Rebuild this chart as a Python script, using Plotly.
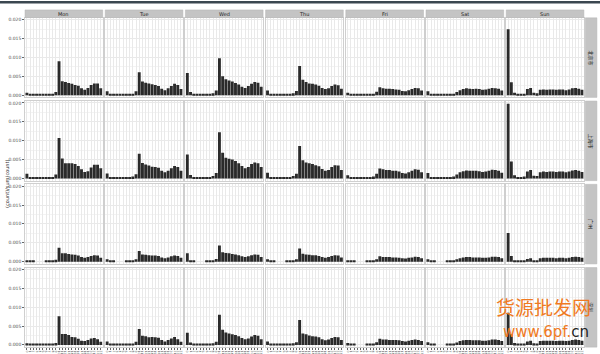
import plotly.graph_objects as go

hours = list(range(24))
days = ["Mon", "Tue", "Wed", "Thu", "Fri", "Sat", "Sun"]
cities = ["北京市", "上海市", "广州", "深圳"]
y_ticks = [0.0, 0.005, 0.010, 0.015, 0.020]
y_tick_labels = ["0.000", "0.005", "0.010", "0.015", "0.020"]
y_title = "(count)/sum(count)"

# values per city row, one list per weekday (hours 0..23)
city1_values = [
    [0.0006,0.0003,0.0001,0.0001,0.0001,0.0001,0.0002,0.0003,0.0004,0.0008,0.0090,0.0037,0.0035,0.0032,0.0030,0.0027,0.0025,0.0018,0.0014,0.0019,0.0027,0.0031,0.0031,0.0018],
    [0.0010,0.0003,0.0001,0.0001,0.0001,0.0001,0.0002,0.0003,0.0004,0.0010,0.0061,0.0036,0.0033,0.0031,0.0029,0.0027,0.0024,0.0017,0.0013,0.0018,0.0024,0.0030,0.0027,0.0016],
    [0.0059,0.0008,0.0002,0.0001,0.0001,0.0001,0.0002,0.0003,0.0005,0.0012,0.0098,0.0050,0.0042,0.0039,0.0036,0.0032,0.0028,0.0022,0.0019,0.0024,0.0030,0.0035,0.0033,0.0022],
    [0.0012,0.0004,0.0001,0.0001,0.0001,0.0001,0.0002,0.0003,0.0005,0.0011,0.0077,0.0041,0.0035,0.0031,0.0030,0.0028,0.0025,0.0019,0.0016,0.0018,0.0024,0.0028,0.0026,0.0017],
    [0.0006,0.0002,0.0001,0.0001,0.0001,0.0001,0.0001,0.0002,0.0004,0.0009,0.0021,0.0018,0.0017,0.0017,0.0016,0.0015,0.0014,0.0011,0.0010,0.0013,0.0016,0.0019,0.0018,0.0012],
    [0.0010,0.0003,0.0001,0.0001,0.0001,0.0001,0.0001,0.0002,0.0004,0.0008,0.0013,0.0016,0.0018,0.0017,0.0016,0.0017,0.0016,0.0014,0.0015,0.0017,0.0019,0.0018,0.0017,0.0012],
    [0.0175,0.0034,0.0006,0.0003,0.0002,0.0004,0.0016,0.0019,0.0006,0.0005,0.0014,0.0015,0.0014,0.0015,0.0015,0.0014,0.0015,0.0015,0.0013,0.0015,0.0018,0.0019,0.0017,0.0014],
]
city2_values = [
    [0.0012,0.0004,0.0001,0.0001,0.0001,0.0001,0.0002,0.0003,0.0004,0.0010,0.0107,0.0053,0.0040,0.0040,0.0040,0.0038,0.0033,0.0024,0.0017,0.0019,0.0029,0.0036,0.0036,0.0027],
    [0.0013,0.0004,0.0001,0.0001,0.0001,0.0001,0.0002,0.0003,0.0005,0.0011,0.0065,0.0041,0.0037,0.0034,0.0031,0.0030,0.0028,0.0020,0.0016,0.0020,0.0027,0.0033,0.0030,0.0020],
    [0.0063,0.0009,0.0002,0.0001,0.0001,0.0001,0.0002,0.0003,0.0006,0.0014,0.0122,0.0068,0.0055,0.0052,0.0050,0.0046,0.0040,0.0033,0.0027,0.0030,0.0038,0.0042,0.0040,0.0030],
    [0.0015,0.0004,0.0001,0.0001,0.0001,0.0001,0.0002,0.0003,0.0006,0.0012,0.0086,0.0048,0.0042,0.0040,0.0038,0.0035,0.0032,0.0025,0.0020,0.0022,0.0030,0.0035,0.0034,0.0022],
    [0.0008,0.0002,0.0001,0.0001,0.0001,0.0001,0.0001,0.0002,0.0005,0.0012,0.0026,0.0024,0.0022,0.0022,0.0020,0.0020,0.0018,0.0014,0.0013,0.0016,0.0020,0.0024,0.0023,0.0016],
    [0.0014,0.0004,0.0001,0.0001,0.0001,0.0001,0.0001,0.0002,0.0005,0.0010,0.0016,0.0019,0.0021,0.0020,0.0020,0.0020,0.0019,0.0017,0.0018,0.0020,0.0023,0.0022,0.0020,0.0015],
    [0.0198,0.0045,0.0008,0.0003,0.0002,0.0005,0.0018,0.0022,0.0007,0.0006,0.0016,0.0018,0.0017,0.0018,0.0018,0.0017,0.0018,0.0018,0.0016,0.0018,0.0021,0.0022,0.0020,0.0017],
]
city3_values = [
    [0.0004,0.0002,0.0001,0.0000,0.0000,0.0000,0.0001,0.0002,0.0003,0.0005,0.0037,0.0022,0.0022,0.0020,0.0019,0.0018,0.0016,0.0012,0.0010,0.0012,0.0015,0.0017,0.0016,0.0010],
    [0.0006,0.0002,0.0001,0.0000,0.0000,0.0000,0.0001,0.0002,0.0003,0.0006,0.0028,0.0019,0.0018,0.0017,0.0016,0.0016,0.0015,0.0011,0.0009,0.0011,0.0014,0.0016,0.0015,0.0010],
    [0.0022,0.0004,0.0001,0.0000,0.0000,0.0000,0.0001,0.0002,0.0004,0.0007,0.0043,0.0025,0.0023,0.0022,0.0020,0.0019,0.0017,0.0014,0.0012,0.0014,0.0017,0.0019,0.0018,0.0012],
    [0.0006,0.0002,0.0001,0.0000,0.0000,0.0000,0.0001,0.0002,0.0003,0.0006,0.0035,0.0021,0.0019,0.0018,0.0017,0.0017,0.0015,0.0012,0.0010,0.0012,0.0015,0.0017,0.0016,0.0011],
    [0.0004,0.0001,0.0001,0.0000,0.0000,0.0000,0.0001,0.0001,0.0003,0.0006,0.0014,0.0012,0.0012,0.0012,0.0011,0.0011,0.0010,0.0009,0.0008,0.0010,0.0011,0.0013,0.0012,0.0009],
    [0.0006,0.0002,0.0001,0.0000,0.0000,0.0000,0.0001,0.0001,0.0003,0.0006,0.0009,0.0011,0.0012,0.0012,0.0011,0.0011,0.0011,0.0010,0.0010,0.0011,0.0013,0.0013,0.0012,0.0009],
    [0.0076,0.0015,0.0003,0.0001,0.0001,0.0002,0.0007,0.0009,0.0003,0.0003,0.0009,0.0010,0.0010,0.0010,0.0010,0.0009,0.0010,0.0010,0.0009,0.0010,0.0012,0.0013,0.0012,0.0010],
]
city4_values = [
    [0.0004,0.0002,0.0001,0.0001,0.0001,0.0001,0.0001,0.0002,0.0003,0.0005,0.0076,0.0029,0.0029,0.0026,0.0021,0.0020,0.0016,0.0011,0.0010,0.0013,0.0017,0.0018,0.0015,0.0008],
    [0.0009,0.0002,0.0001,0.0001,0.0001,0.0001,0.0001,0.0003,0.0003,0.0008,0.0042,0.0024,0.0023,0.0020,0.0021,0.0020,0.0019,0.0013,0.0009,0.0013,0.0017,0.0021,0.0015,0.0008],
    [0.0032,0.0006,0.0001,0.0001,0.0001,0.0001,0.0001,0.0002,0.0004,0.0008,0.0080,0.0040,0.0033,0.0030,0.0028,0.0026,0.0023,0.0018,0.0015,0.0017,0.0022,0.0026,0.0024,0.0015],
    [0.0009,0.0003,0.0001,0.0001,0.0001,0.0001,0.0001,0.0002,0.0004,0.0007,0.0066,0.0030,0.0028,0.0025,0.0023,0.0022,0.0020,0.0015,0.0012,0.0014,0.0018,0.0021,0.0020,0.0013],
    [0.0005,0.0002,0.0001,0.0000,0.0000,0.0000,0.0001,0.0001,0.0003,0.0007,0.0016,0.0014,0.0014,0.0013,0.0013,0.0013,0.0012,0.0010,0.0009,0.0011,0.0013,0.0014,0.0013,0.0010],
    [0.0007,0.0002,0.0001,0.0000,0.0000,0.0000,0.0001,0.0001,0.0003,0.0006,0.0010,0.0012,0.0013,0.0013,0.0012,0.0012,0.0012,0.0011,0.0011,0.0012,0.0014,0.0014,0.0013,0.0010],
    [0.0085,0.0028,0.0005,0.0002,0.0001,0.0003,0.0009,0.0011,0.0004,0.0003,0.0010,0.0011,0.0011,0.0011,0.0011,0.0010,0.0011,0.0011,0.0010,0.0011,0.0013,0.0014,0.0013,0.0011],
]
all_values = [city1_values, city2_values, city3_values, city4_values]

W, H = 600, 354
col_left0, col_w, col_step = 25.0, 77.7, 80.2
row_top0, row_h, row_step = 17.0, 80.5, 84.2
strip_color = "#c4c4c4"
bar_color = "#2a2a2a"
grid_color = "#e9e9e9"
minor_grid = "#f3f3f3"
y_minor = [0.0025, 0.0075, 0.0125, 0.0175]

fig = go.Figure()
layout = dict(
    width=W, height=H, margin=dict(l=0, r=0, t=0, b=0),
    paper_bgcolor="white", plot_bgcolor="white",
    bargap=0.1, showlegend=False,
    font=dict(family="DejaVu Sans", color="#4d4d4d"),
)
shapes, annotations = [], []

for r in range(4):
    top = row_top0 + r * row_step
    for c in range(7):
        k = r * 7 + c + 1
        left = col_left0 + c * col_step
        sx = "" if k == 1 else str(k)
        fig.add_trace(go.Bar(
            x=hours, y=all_values[r][c], xaxis="x" + sx, yaxis="y" + sx,
            marker=dict(color=bar_color, line=dict(width=0)),
            hoverinfo="x+y",
        ))
        layout["xaxis" + sx] = dict(
            domain=[left / W, (left + col_w) / W], anchor="y" + sx,
            range=[-0.6, 23.6], tickvals=hours, ticktext=[str(h) for h in hours],
            showgrid=True, gridcolor=grid_color, gridwidth=0.6, zeroline=False,
            showline=True, linecolor="#cfcfcf", linewidth=0.6, mirror=True,
            ticks="outside" if r == 3 else "", ticklen=2, tickcolor="#666666", tickwidth=0.5,
            showticklabels=(r == 3), tickfont=dict(size=3, color="#4d4d4d"), tickangle=90,
            fixedrange=True,
        )
        layout["yaxis" + sx] = dict(
            domain=[1 - (top + row_h) / H, 1 - top / H], anchor="x" + sx,
            range=[-0.0006, 0.0205], tickvals=y_ticks, ticktext=y_tick_labels,
            showgrid=True, gridcolor=grid_color, gridwidth=0.6, zeroline=False,
            minor=dict(tickvals=y_minor, showgrid=True, gridcolor=minor_grid, gridwidth=0.5),
            showline=True, linecolor="#cfcfcf", linewidth=0.6, mirror=True,
            ticks="outside" if c == 0 else "", ticklen=2, tickcolor="#666666", tickwidth=0.5,
            showticklabels=(c == 0), tickfont=dict(size=4.5, color="#4d4d4d"),
            fixedrange=True,
        )
        if r == 0:
            shapes.append(dict(type="rect", xref="paper", yref="paper",
                               x0=left / W, x1=(left + col_w) / W,
                               y0=1 - 16.7 / H, y1=1 - 9.0 / H,
                               fillcolor=strip_color, line=dict(color="#b5b5b5", width=0.5)))
            annotations.append(dict(text=days[c], xref="paper", yref="paper",
                                    x=(left + col_w / 2) / W, y=1 - 12.9 / H,
                                    showarrow=False, font=dict(size=5, color="#1a1a1a"),
                                    xanchor="center", yanchor="middle"))
    # right strip
    sl = col_left0 + 6 * col_step + col_w + 1.5
    shapes.append(dict(type="rect", xref="paper", yref="paper",
                       x0=sl / W, x1=(sl + 11.5) / W,
                       y0=1 - (top + row_h) / H, y1=1 - top / H,
                       fillcolor=strip_color, line=dict(color="#b5b5b5", width=0.5)))
    annotations.append(dict(text=cities[r], xref="paper", yref="paper",
                            x=(sl + 5.75) / W, y=1 - (top + row_h / 2) / H,
                            showarrow=False, textangle=90,
                            font=dict(size=5, color="#1a1a1a", family="Noto Sans CJK SC"),
                            xanchor="center", yanchor="middle"))

# y axis title
annotations.append(dict(text=y_title, xref="paper", yref="paper",
                        x=7 / W, y=1 - 185 / H, showarrow=False, textangle=-90,
                        font=dict(size=5, color="#333333"),
                        xanchor="center", yanchor="middle"))

# top dark band (screenshot edge)
shapes.append(dict(type="rect", xref="paper", yref="paper", x0=0, x1=1,
                   y0=1 - 2.5 / H, y1=1, fillcolor="#3b4750", line=dict(width=0)))

# watermark
annotations.append(dict(text="货源批发网", xref="paper", yref="paper",
                        x=593 / W, y=1 - 309 / H, showarrow=False,
                        font=dict(size=19, color="#f07a22", family="Noto Sans CJK SC"),
                        xanchor="right", yanchor="middle"))
annotations.append(dict(text="www.6pf.<span style='color:#1f1f1f'>cn</span>",
                        xref="paper", yref="paper",
                        x=591 / W, y=1 - 334.5 / H, showarrow=False,
                        font=dict(size=15, color="#f07a22", family="DejaVu Sans"),
                        xanchor="right", yanchor="middle"))

layout["shapes"] = shapes
layout["annotations"] = annotations
fig.update_layout(**layout)
fig.write_html("out.html")
